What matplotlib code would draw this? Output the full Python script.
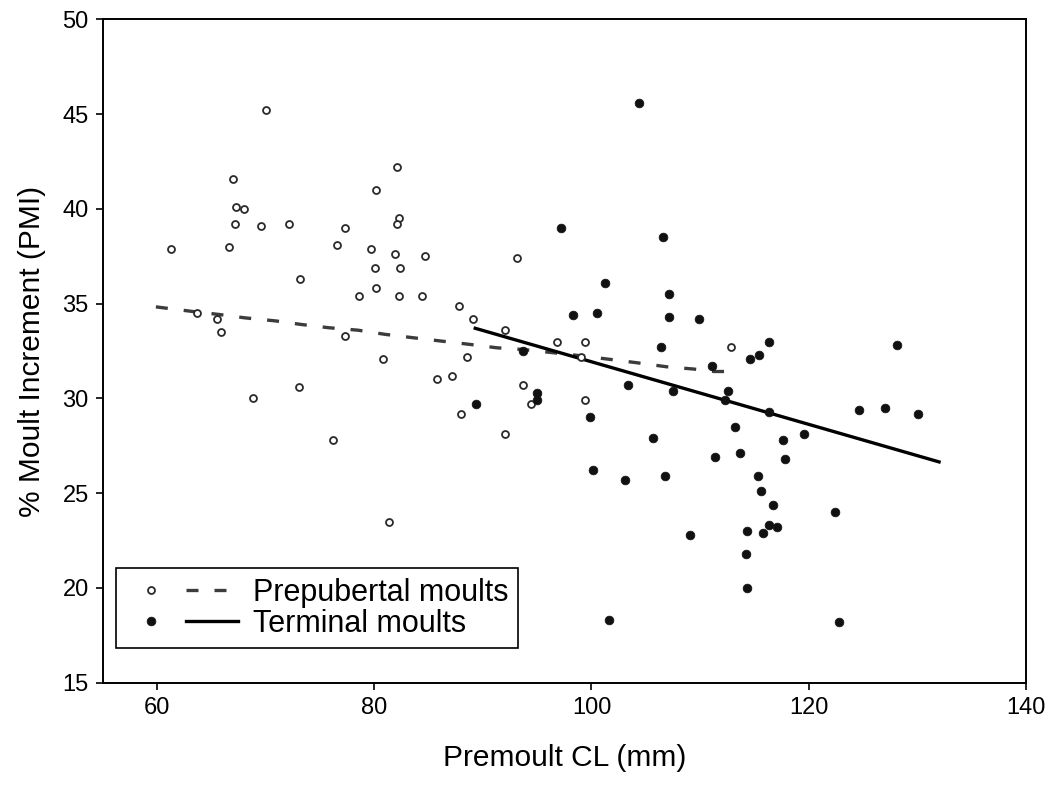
import matplotlib
matplotlib.use("Agg")
import matplotlib.pyplot as plt
from matplotlib.legend_handler import HandlerTuple

plt.rcParams['font.family'] = ['Liberation Sans', 'DejaVu Sans']

# Prepubertal moults (open circles)
pre_x = [61.3, 70.0, 67.0, 67.3, 68.0, 67.2, 69.6, 72.2, 66.6, 73.2, 77.3, 76.6, 80.2, 82.1,
         82.3, 82.1, 79.7, 81.9, 80.1, 82.4, 84.7, 78.6, 80.2, 82.3, 84.4, 63.7, 65.5, 65.9,
         77.3, 80.8, 85.8, 73.1, 68.8, 76.2, 81.4, 93.1, 87.8, 89.1, 92.0, 96.8, 99.4, 88.5,
         112.8, 87.2, 93.7, 94.4, 99.4, 88.0, 92.0, 99.0]
pre_y = [37.9, 45.2, 41.6, 40.1, 40.0, 39.2, 39.1, 39.2, 38.0, 36.3, 39.0, 38.1, 41.0, 42.2,
         39.5, 39.2, 37.9, 37.6, 36.9, 36.9, 37.5, 35.4, 35.8, 35.4, 35.4, 34.5, 34.2, 33.5,
         33.3, 32.1, 31.0, 30.6, 30.0, 27.8, 23.5, 37.4, 34.9, 34.2, 33.6, 33.0, 33.0, 32.2,
         32.7, 31.2, 30.7, 29.7, 29.9, 29.2, 28.1, 32.2]

# Terminal moults (filled circles)
term_x = [104.4, 97.2, 106.6, 101.2, 107.1, 98.3, 100.5, 107.1, 109.9, 106.4, 111.1, 114.6,
          93.7, 95.0, 95.0, 89.4, 103.4, 107.5, 112.6, 112.3, 99.9, 113.2, 105.7, 111.4,
          113.7, 100.1, 103.1, 106.8, 109.1, 114.3, 114.2, 114.3, 101.6, 116.3, 115.4, 128.1,
          116.3, 124.6, 127.0, 130.1, 119.6, 117.6, 117.8, 115.3, 115.6, 116.7, 122.4, 115.8,
          116.3, 117.1, 122.8]
term_y = [45.6, 39.0, 38.5, 36.1, 35.5, 34.4, 34.5, 34.3, 34.2, 32.7, 31.7, 32.1,
          32.5, 30.3, 29.9, 29.7, 30.7, 30.4, 30.4, 29.9, 29.0, 28.5, 27.9, 26.9,
          27.1, 26.2, 25.7, 25.9, 22.8, 23.0, 21.8, 20.0, 18.3, 33.0, 32.3, 32.8,
          29.3, 29.4, 29.5, 29.2, 28.1, 27.8, 26.8, 25.9, 25.1, 24.4, 24.0, 22.9,
          23.3, 23.2, 18.2]

# Fitted curves
pre_fit_x = [59.9, 63.5, 65.7, 68.1, 70.9, 73.3, 75.8, 78.5, 81.0, 83.6, 86.1, 88.8, 91.3,
             93.7, 96.5, 99.3, 101.7, 104.2, 106.9, 109.4, 111.3, 112.4]
pre_fit_y = [34.83, 34.57, 34.43, 34.25, 34.09, 33.90, 33.73, 33.60, 33.38, 33.20, 33.03,
             32.85, 32.67, 32.58, 32.41, 32.23, 32.06, 31.88, 31.67, 31.55, 31.42, 31.42]
term_fit_x = [89.3, 132.0]
term_fit_y = [33.7, 26.65]

labels = ["Prepubertal moults", "Terminal moults"]
x_ticks = [60, 80, 100, 120, 140]
y_ticks = [15, 20, 25, 30, 35, 40, 45, 50]

fig = plt.figure(figsize=(10.54, 7.89), dpi=100)
ax = fig.add_axes([0.0974, 0.1347, 0.876, 0.8408])

dash_style = (0, (3.6, 4.8))
l_pre, = ax.plot(pre_fit_x, pre_fit_y, color='#3c3c3c', lw=2.4, linestyle=dash_style, zorder=2)
l_term, = ax.plot(term_fit_x, term_fit_y, color='black', lw=2.4, zorder=2)
m_pre, = ax.plot(pre_x, pre_y, linestyle='none', marker='o', markersize=5.0,
                 markerfacecolor='white', markeredgecolor='#2a2a2a', markeredgewidth=1.3, zorder=3)
m_term, = ax.plot(term_x, term_y, linestyle='none', marker='o', markersize=6.3,
                  markerfacecolor='#111111', markeredgecolor='#111111', markeredgewidth=0.5, zorder=3)

ax.set_xlim(55, 140)
ax.set_ylim(15, 50)
ax.set_xticks(x_ticks)
ax.set_yticks(y_ticks)
ax.tick_params(axis='both', direction='out', length=5, width=1.2, labelsize=17, pad=5)
for s in ax.spines.values():
    s.set_linewidth(1.4)

ax.set_xlabel("Premoult CL (mm)", fontsize=21.5, labelpad=18)
ax.set_ylabel("% Moult Increment (PMI)", fontsize=21.5, labelpad=12)

leg = ax.legend([(m_pre, l_pre), (m_term, l_term)], labels,
                handler_map={tuple: HandlerTuple(ndivide=2, pad=0.3)},
                loc='lower left', bbox_to_anchor=(0.014, 0.052), borderaxespad=0,
                fontsize=22, handlelength=3.7, handletextpad=0.5, borderpad=0.3,
                labelspacing=0.05, frameon=True, fancybox=False, framealpha=1,
                edgecolor='black')
leg.get_frame().set_linewidth(1.2)

fig.savefig("out.png", dpi=100)
